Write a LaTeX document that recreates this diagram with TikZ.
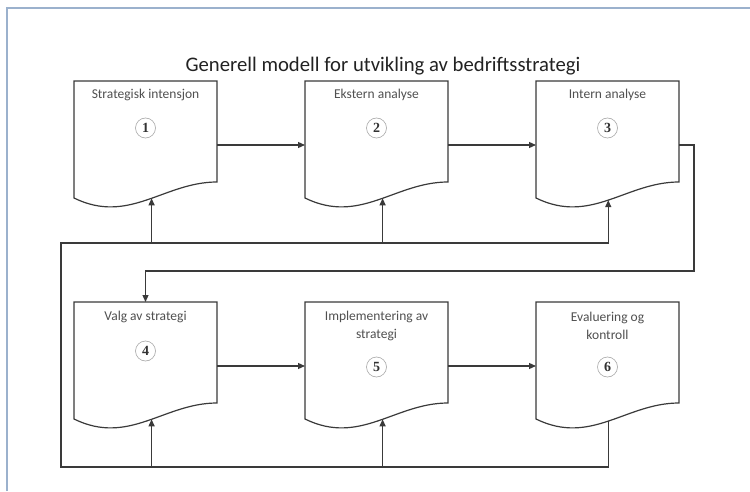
\documentclass[tikz,border=0pt]{standalone}
\usepackage{fontspec}
\setmainfont{Carlito}
\newfontfamily\numfont{Liberation Serif}
\usetikzlibrary{arrows.meta}
\definecolor{framec}{HTML}{9BB1CD}
\definecolor{linec}{HTML}{3A3A3A}
\definecolor{txtc}{HTML}{505050}
\definecolor{titlec}{HTML}{222222}
% #1 name, #2 left x, #3 top y, #4 pos of connection point on the wavy bottom
\newcommand\DocShape[4]{%
  \draw[docline] (#2,#3) coordinate (#1-nw) -- (#2,#3-117) coordinate (#1-sw)
    .. controls (#2+55,#3-144) and (#2+90,#3-101) .. (#2+143,#3-101)
    coordinate[pos=#4] (#1-wv)
    -- (#2+143,#3) coordinate (#1-ne) -- cycle;
  \coordinate (#1-n) at (#2+71.5,#3);
  \coordinate (#1-e) at (#2+143,#3-64);
  \coordinate (#1-w) at (#2,#3-64);
}
\begin{document}
\begin{tikzpicture}[x=1pt,y=1pt,
  docline/.style={draw=linec,line width=1.2pt,fill=white},
  conn/.style={draw=linec,line width=1.2pt},
  arr/.style={conn,-{Triangle[length=7pt,width=6pt]}},
  lbl/.style={text=txtc,font=\fontsize{13.5}{18}\selectfont,align=center,inner sep=0pt},
  numc/.style={circle,draw=gray!70,line width=0.6pt,minimum size=20pt,inner sep=0pt,
    font=\numfont\bfseries\fontsize{14}{14}\selectfont,text=black!80},
  ttl/.style={text=titlec,font=\fontsize{20.7}{24}\selectfont,inner sep=0pt}]
\useasboundingbox (0,0) rectangle (750,491);
\draw[framec,line width=2pt] (7,0) -- (7,483) -- (750,483);

\node[ttl] (title) at (383,425) {Generell modell for utvikling av bedriftsstrategi};

% row 1
\DocShape{b1}{74}{410}{0.54}
\DocShape{b2}{305}{410}{0.54}
\DocShape{b3}{536}{410}{0.5}
% row 2
\DocShape{b4}{74}{189}{0.54}
\DocShape{b5}{305}{189}{0.54}
\DocShape{b6}{536}{189}{0.5}

\node[lbl] (t1) at (145.5,396) {Strategisk intensjon};
\node[lbl] (t2) at (376.5,396) {Ekstern analyse};
\node[lbl] (t3) at (607.5,396) {Intern analyse};
\node[lbl] (t4) at (145.5,174) {Valg av strategi};
\node[lbl] (t5) at (376.5,165) {Implementering av\\strategi};
\node[lbl] (t6) at (607.5,165) {Evaluering og\\kontroll};

\node[numc] (n1) at (145.5,363) {1};
\node[numc] (n2) at (376.5,363) {2};
\node[numc] (n3) at (607.5,363) {3};
\node[numc] (n4) at (145.5,140) {4};
\node[numc] (n5) at (376.5,124) {5};
\node[numc] (n6) at (607.5,124) {6};

% forward flow
\draw[arr] (b1-e) -- (b2-w);
\draw[arr] (b2-e) -- (b3-w);
\coordinate (r1) at (694,220);
\draw[arr] (b3-e) -| (r1) -| (b4-n);
\draw[arr] (b4-e) -- (b5-w);
\draw[arr] (b5-e) -- (b6-w);

% feedback
\coordinate (fbL) at (61,248);
\coordinate (fbB) at (61,24);
\draw[arr] (b6-wv) |- (fbB) -- (fbL) -| (b3-wv);
\draw[arr] (b1-wv |- fbL) -- (b1-wv);
\draw[arr] (b2-wv |- fbL) -- (b2-wv);
\draw[arr] (b4-wv |- fbB) -- (b4-wv);
\draw[arr] (b5-wv |- fbB) -- (b5-wv);
\end{tikzpicture}
\end{document}
